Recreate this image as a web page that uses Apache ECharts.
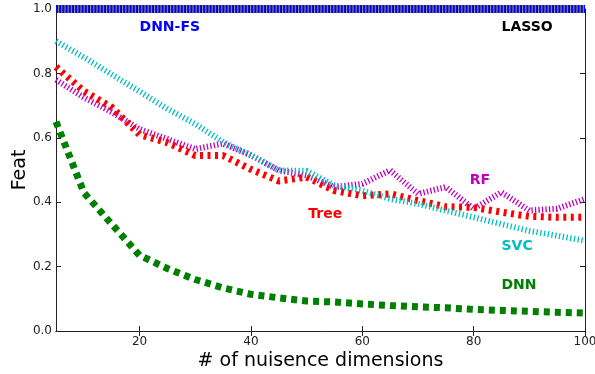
<!DOCTYPE html>
<html>
<head>
<meta charset="utf-8">
<script src="https://cdn.jsdelivr.net/npm/echarts@6/dist/echarts.min.js"></script>
<style>
  html, body { margin: 0; padding: 0; background: #fff; }
  #chart { width: 595px; height: 374px; }
</style>
</head>
<body>
<div id="chart"></div>
<script>
const dims = [5, 10, 15, 20, 25, 30, 35, 40, 45, 50, 55, 60, 65, 70, 75, 80, 85, 90, 95, 100];
const dnnFs = [1, 1, 1, 1, 1, 1, 1, 1, 1, 1, 1, 1, 1, 1, 1, 1, 1, 1, 1, 1];
const lasso = [1, 1, 1, 1, 1, 1, 1, 1, 1, 1, 1, 1, 1, 1, 1, 1, 1, 1, 1, 1];
const rf = [0.78, 0.725, 0.68, 0.627, 0.596, 0.565, 0.582, 0.546, 0.499, 0.483, 0.447, 0.457, 0.499, 0.426, 0.447, 0.38, 0.431, 0.374, 0.38, 0.41];
const tree = [0.82, 0.745, 0.695, 0.61, 0.585, 0.545, 0.545, 0.502, 0.466, 0.478, 0.436, 0.42, 0.426, 0.405, 0.386, 0.384, 0.369, 0.356, 0.353, 0.353];
const svc = [0.90, 0.85, 0.797, 0.744, 0.69, 0.643, 0.587, 0.546, 0.499, 0.497, 0.452, 0.436, 0.41, 0.395, 0.374, 0.353, 0.332, 0.311, 0.296, 0.28];
const dnn = [0.65, 0.43, 0.332, 0.235, 0.194, 0.16, 0.134, 0.114, 0.103, 0.093, 0.09, 0.084, 0.079, 0.075, 0.072, 0.067, 0.064, 0.061, 0.058, 0.056];

const xTicks = [20, 40, 60, 80, 100];

// text annotations, left-aligned at (x, y) in data space
const noteText = ["DNN-FS", "LASSO", "RF", "Tree", "SVC", "DNN"];
const noteX = [20, 85, 79.3, 50.3, 85, 85];
const noteY = [0.943, 0.943, 0.469, 0.363, 0.264, 0.143];
const noteColor = ["#0000ff", "#000000", "#bf00bf", "#ff0000", "#00bfbf", "#008000"];

const pair = ys => dims.map((x, i) => [x, ys[i]]);

const chart = echarts.init(document.getElementById("chart"));

const axisLine = { show: true, lineStyle: { color: "#222", width: 1 } };
const font = "DejaVu Sans";

function lineSeries(name, ys, color, width, dash, clip) {
    return {
        type: "line",
        name: name,
        data: pair(ys),
        symbol: "none",
        clip: clip,
        lineStyle: { color: color, width: width, type: dash, cap: "butt" },
        z: 2
    };
}

const option = {
    backgroundColor: "#fff",
    animation: false,
    grid: { left: 56, right: 10, top: 9, bottom: 43, containLabel: false, outerBoundsMode: "none" },
    xAxis: [{
        type: "value",
        min: 5,
        max: 100,
        name: "# of nuisence dimensions",
        nameLocation: "middle",
        nameGap: 21,
        nameMoveOverlap: false,
        nameTextStyle: { fontFamily: font, fontSize: 19, color: "#000" },
        axisLine: axisLine,
        axisTick: { inside: true, length: 5, lineStyle: { color: "#222" }, customValues: xTicks },
        axisLabel: { fontFamily: font, fontSize: 12, color: "#222", margin: 5, customValues: xTicks },
        splitLine: { show: false }
    }, {
        type: "value",
        position: "top",
        min: 5,
        max: 100,
        axisLine: axisLine,
        axisTick: { inside: true, length: 5, lineStyle: { color: "#222" }, customValues: xTicks },
        axisLabel: { show: false },
        splitLine: { show: false }
    }],
    yAxis: [{
        type: "value",
        min: 0,
        max: 1,
        interval: 0.2,
        name: "Feat",
        nameLocation: "middle",
        nameGap: 26,
        nameMoveOverlap: false,
        nameTextStyle: { fontFamily: font, fontSize: 19, color: "#000" },
        axisLine: axisLine,
        axisTick: { inside: true, length: 5, lineStyle: { color: "#222" } },
        axisLabel: { fontFamily: font, fontSize: 12, color: "#222", margin: 4, formatter: v => v.toFixed(1) },
        splitLine: { show: false }
    }, {
        type: "value",
        position: "right",
        min: 0,
        max: 1,
        interval: 0.2,
        axisLine: axisLine,
        axisTick: { inside: true, length: 5, lineStyle: { color: "#222" } },
        axisLabel: { show: false },
        splitLine: { show: false }
    }],
    series: [
        lineSeries("LASSO", lasso, "#8c8c5a", 8, "solid", false),
        lineSeries("DNN-FS", dnnFs, "#0000ff", 8, [2, 1.2], false),
        lineSeries("RF", rf, "#bf00bf", 6, [1.3, 2.2], true),
        lineSeries("Tree", tree, "#ff0000", 7, [3, 4.5], true),
        lineSeries("SVC", svc, "#00bfbf", 6, [1.3, 2.5], true),
        lineSeries("DNN", dnn, "#008000", 7, [6, 5], true),
        {
            type: "scatter",
            symbolSize: 0,
            silent: true,
            z: 5,
            itemStyle: { opacity: 1 },
            data: noteText.map((t, i) => ({
                value: [noteX[i], noteY[i]],
                label: {
                    show: true,
                    position: "right",
                    distance: 0,
                    formatter: t,
                    fontFamily: font,
                    fontSize: 14,
                    fontWeight: "bold",
                    color: noteColor[i],
                    opacity: 1
                }
            }))
        }
    ]
};

chart.setOption(option);
</script>
</body>
</html>
